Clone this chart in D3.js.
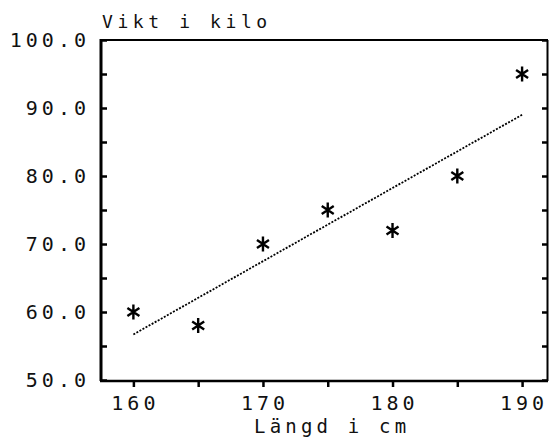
<!DOCTYPE html>
<html><head><meta charset="utf-8">
<script src="https://cdn.jsdelivr.net/npm/d3@7"></script>
<style>
body{margin:0;background:#fff;}
text{font-family:"DejaVu Sans Mono",monospace;fill:#111;}
</style></head>
<body>
<script>
const lengths = [160, 165, 170, 175, 180, 185, 190];
const weights = [60, 58, 70, 75, 72, 80, 95];
const fitX = [160, 190];
const fitY = [56.7, 89.0];
const yTicks = [50, 60, 70, 80, 90, 100];
const yMinor = [55, 65, 75, 85, 95];
const xTicks = [160, 170, 180, 190];
const xMinor = [165, 175, 185];
const yTitle = "Vikt i kilo";
const xTitle = "Längd i cm";

const W = 549, H = 437;
const svg = d3.select("body").append("svg").attr("width", W).attr("height", H);
const x = d3.scaleLinear().domain([157.5, 192]).range([101, 548]);
const y = d3.scaleLinear().domain([50, 100]).range([380, 40]);

// frame
svg.append("line").attr("x1",101).attr("x2",101).attr("y1",39).attr("y2",381).attr("stroke","#000").attr("stroke-width",3);
svg.append("line").attr("x1",100).attr("x2",548).attr("y1",381).attr("y2",381).attr("stroke","#000").attr("stroke-width",2.5);
svg.append("line").attr("x1",100).attr("x2",548).attr("y1",40).attr("y2",40).attr("stroke","#000").attr("stroke-width",2);
svg.append("line").attr("x1",547.5).attr("x2",547.5).attr("y1",40).attr("y2",381).attr("stroke","#000").attr("stroke-width",2);

// left axis: ticks inward
const yAxisL = d3.axisRight(y).tickValues(yTicks.concat(yMinor)).tickSize(6).tickFormat("");
const gL = svg.append("g").attr("transform","translate(101,0)").call(yAxisL);
gL.select(".domain").remove();
gL.selectAll("line").attr("stroke","#000").attr("stroke-width",2.5);
// right axis ticks inward
const yAxisR = d3.axisLeft(y).tickValues(yTicks.concat(yMinor)).tickSize(6).tickFormat("");
const gR = svg.append("g").attr("transform","translate(548,0)").call(yAxisR);
gR.select(".domain").remove();
gR.selectAll("line").attr("stroke","#000").attr("stroke-width",2.5);
// y labels
svg.append("g").selectAll("text").data(yTicks).join("text")
  .attr("x", 90).attr("y", d => y(d) + 7)
  .attr("text-anchor","end").attr("font-size",20).attr("letter-spacing",4)
  .text(d => d.toFixed(1));

// bottom axis ticks outward
const xAxis = d3.axisBottom(x).tickValues(xTicks.concat(xMinor)).tickSize(6).tickFormat("");
const gB = svg.append("g").attr("transform","translate(0,381)").call(xAxis);
gB.select(".domain").remove();
gB.selectAll("line").attr("stroke","#000").attr("stroke-width",2.5);
svg.append("g").selectAll("text").data(xTicks).join("text")
  .attr("x", d => x(d) + 2).attr("y", 410)
  .attr("text-anchor","middle").attr("font-size",20).attr("letter-spacing",4)
  .text(d => d);

// titles
svg.append("text").attr("x",102).attr("y",28).attr("font-size",18).attr("letter-spacing",4.6).text(yTitle);
svg.append("text").attr("x",254).attr("y",433).attr("font-size",19).attr("letter-spacing",4.2).text(xTitle);

// fit line
svg.append("line")
  .attr("x1", x(fitX[0])).attr("y1", y(fitY[0]))
  .attr("x2", x(fitX[1])).attr("y2", y(fitY[1]))
  .attr("stroke","#000").attr("stroke-width",1.8).attr("stroke-dasharray","2 1.5");

// asterisks
const star = "M0,-7.5V7.5M-6,-4L6,4M-6,4L6,-4";
svg.append("g").selectAll("path").data(lengths.map((l,i)=>[l,weights[i]])).join("path")
  .attr("transform", d => `translate(${x(d[0])},${y(d[1])})`)
  .attr("d", star).attr("stroke","#000").attr("stroke-width",2.4).attr("fill","none");
</script>
</body></html>
